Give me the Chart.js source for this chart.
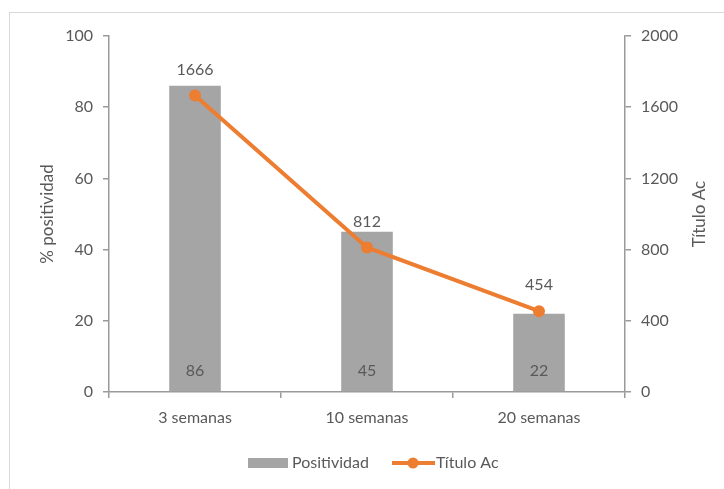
<!DOCTYPE html>
<html>
<head>
<meta charset="utf-8">
<script src="https://cdn.jsdelivr.net/npm/chart.js@4/dist/chart.umd.min.js"></script>
<style>
  html, body { margin: 0; padding: 0; background: #fff; overflow: hidden; }
  #wrap { position: relative; width: 724px; height: 489px; }
  #frame { position: absolute; left: 9px; top: 12px; width: 800px; height: 600px; border: 1px solid #d9d9d9; box-sizing: border-box; }
  #c { position: absolute; left: 0; top: 0; }
</style>
</head>
<body>
<div id="wrap">
  <div id="frame"></div>
  <canvas id="c" width="724" height="489"></canvas>
</div>
<script>
// Categories and series
const categories = ['3 semanas', '10 semanas', '20 semanas'];
const positividad = [86, 45, 22];
const tituloAc = [1666, 812, 454];
const leftTicks = [0, 20, 40, 60, 80, 100];
const rightTicks = [0, 400, 800, 1200, 1600, 2000];

const FONT = 'Lato, "Open Sans", sans-serif';
const TEXT = '#595959';
const AXIS = '#9a9a9a';
const BAR = '#a5a5a5';
const LINE = '#ed7d31';

// Value labels, axis titles and the legend
const decorations = {
  id: 'decorations',
  afterDatasetsDraw(chart) {
    const ctx = chart.ctx;
    ctx.save();
    ctx.fillStyle = TEXT;
    ctx.font = '16px ' + FONT;
    ctx.textAlign = 'center';
    ctx.textBaseline = 'middle';
    const bars = chart.getDatasetMeta(0);
    bars.data.forEach((el, i) => {
      ctx.fillText(String(positividad[i]), el.x, el.base - 20);
    });
    const pts = chart.getDatasetMeta(1);
    pts.data.forEach((el, i) => {
      ctx.fillText(String(tituloAc[i]), el.x, el.y - 26);
    });

    // axis titles, both reading bottom-to-top
    const a = chart.chartArea;
    const midY = (a.top + a.bottom) / 2;
    ctx.font = '17px ' + FONT;
    [['% positividad', 48], ['Título Ac', 700]].forEach(([t, x]) => {
      ctx.save();
      ctx.translate(x, midY);
      ctx.rotate(-Math.PI / 2);
      ctx.fillText(t, 0, 0);
      ctx.restore();
    });

    // legend
    const ly = 463;
    ctx.font = '16px ' + FONT;
    ctx.textAlign = 'left';
    ctx.fillStyle = BAR;
    ctx.fillRect(248, ly - 5, 40, 10);
    ctx.fillStyle = TEXT;
    ctx.fillText(chart.data.datasets[0].label, 292, ly);
    ctx.strokeStyle = LINE;
    ctx.lineWidth = 4;
    ctx.beginPath();
    ctx.moveTo(392, ly);
    ctx.lineTo(435, ly);
    ctx.stroke();
    ctx.fillStyle = LINE;
    ctx.beginPath();
    ctx.arc(413, ly, 5.5, 0, Math.PI * 2);
    ctx.fill();
    ctx.fillStyle = TEXT;
    ctx.fillText(chart.data.datasets[1].label, 436, ly);
    ctx.restore();
  }
};

const axisGrid = { drawOnChartArea: false, drawTicks: true, tickLength: 6, color: AXIS, lineWidth: 1.5 };
const axisBorder = { display: true, color: AXIS, width: 1.5 };
const plainNumber = v => String(v);

new Chart(document.getElementById('c'), {
  data: {
    labels: categories,
    datasets: [
      {
        type: 'bar',
        label: 'Positividad',
        data: positividad,
        yAxisID: 'y',
        backgroundColor: BAR,
        categoryPercentage: 1,
        barPercentage: 0.30,
        order: 1
      },
      {
        type: 'line',
        label: 'Título Ac',
        data: tituloAc,
        yAxisID: 'y1',
        borderColor: LINE,
        backgroundColor: LINE,
        borderWidth: 4,
        pointRadius: 6,
        pointBackgroundColor: LINE,
        pointBorderWidth: 0,
        tension: 0,
        order: 0
      }
    ]
  },
  options: {
    responsive: false,
    animation: false,
    devicePixelRatio: 1,
    layout: { padding: { top: 36, left: 0, right: 0, bottom: 0 } },
    plugins: { legend: { display: false }, tooltip: { enabled: false } },
    scales: {
      x: {
        offset: true,
        grid: Object.assign({ offset: true }, axisGrid),
        border: axisBorder,
        ticks: { color: TEXT, font: { family: FONT, size: 16 }, padding: 10, maxRotation: 0 },
        afterFit(s) { s.height = 97; }
      },
      y: {
        position: 'left',
        min: 0, max: 100,
        afterBuildTicks(s) { s.ticks = leftTicks.map(v => ({ value: v })); },
        grid: axisGrid,
        border: axisBorder,
        ticks: { color: TEXT, font: { family: FONT, size: 16 }, padding: 10, callback: plainNumber },
        afterFit(s) { s.width = 109; }
      },
      y1: {
        position: 'right',
        min: 0, max: 2000,
        afterBuildTicks(s) { s.ticks = rightTicks.map(v => ({ value: v })); },
        grid: axisGrid,
        border: axisBorder,
        ticks: { color: TEXT, font: { family: FONT, size: 16 }, padding: 10, callback: plainNumber },
        afterFit(s) { s.width = 99; }
      }
    }
  },
  plugins: [decorations]
});
</script>
</body>
</html>
